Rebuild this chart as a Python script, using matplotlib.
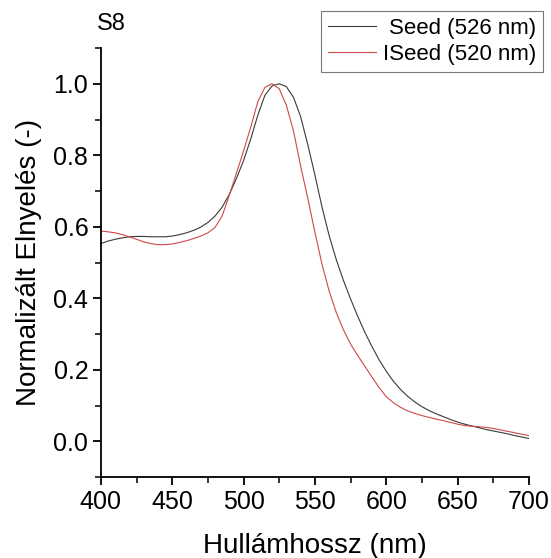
import matplotlib
matplotlib.use("Agg")
import matplotlib.pyplot as plt
from matplotlib.ticker import MultipleLocator

plt.rcParams["font.family"] = ["Liberation Sans", "DejaVu Sans"]

# wavelength grid (nm), 5 nm steps
wavelength = list(range(400, 701, 5))

# Seed spectrum (normalized absorbance)
seed_abs = [0.553, 0.560, 0.565, 0.569, 0.572, 0.573, 0.573, 0.572, 0.572,
            0.572, 0.574, 0.578, 0.583, 0.590, 0.599, 0.612, 0.630, 0.655,
            0.690, 0.735, 0.785, 0.845, 0.912, 0.968, 0.994, 1.000, 0.992,
            0.962, 0.908, 0.830, 0.745, 0.655, 0.575, 0.508, 0.450, 0.398,
            0.350, 0.305, 0.265, 0.228, 0.196, 0.168, 0.145, 0.126, 0.110,
            0.097, 0.086, 0.077, 0.069, 0.061, 0.054, 0.048, 0.043, 0.038,
            0.033, 0.029, 0.025, 0.021, 0.016, 0.012, 0.008]

# ISeed spectrum (normalized absorbance)
iseed_abs = [0.588, 0.586, 0.583, 0.578, 0.572, 0.565, 0.558, 0.553, 0.550,
             0.550, 0.552, 0.556, 0.561, 0.567, 0.574, 0.583, 0.598, 0.630,
             0.688, 0.750, 0.812, 0.878, 0.950, 0.990, 1.000, 0.986, 0.940,
             0.868, 0.770, 0.680, 0.585, 0.495, 0.420, 0.360, 0.312, 0.272,
             0.240, 0.210, 0.180, 0.150, 0.125, 0.108, 0.095, 0.085, 0.078,
             0.072, 0.067, 0.062, 0.058, 0.053, 0.048, 0.044, 0.042, 0.041,
             0.039, 0.036, 0.032, 0.028, 0.024, 0.020, 0.016]

labels = ["Seed (526 nm)", "ISeed (520 nm)"]

fig = plt.figure(figsize=(5.51, 5.58), dpi=100)
ax = fig.add_axes([0.183, 0.145, 0.777, 0.769])

ax.plot(wavelength, seed_abs, color="#3a3a3a", lw=0.8, label=labels[0])
ax.plot(wavelength, iseed_abs, color="#d04848", lw=0.8, label=labels[1])

ax.set_xlim(400, 700)
ax.set_ylim(-0.1, 1.1)
ax.xaxis.set_major_locator(MultipleLocator(50))
ax.xaxis.set_minor_locator(MultipleLocator(25))
ax.yaxis.set_major_locator(MultipleLocator(0.2))
ax.yaxis.set_minor_locator(MultipleLocator(0.1))
ax.set_yticks([0.0, 0.2, 0.4, 0.6, 0.8, 1.0])
ax.set_yticklabels(["0.0", "0.2", "0.4", "0.6", "0.8", "1.0"])

for s in ["top", "right"]:
    ax.spines[s].set_visible(False)
for s in ["left", "bottom"]:
    ax.spines[s].set_linewidth(1.3)
ax.tick_params(which="major", direction="out", length=6, width=1.3,
               labelsize=18, pad=3)
ax.tick_params(which="minor", direction="out", length=4, width=1.1)

ax.set_xlabel("Hullámhossz (nm)", fontsize=20, labelpad=14)
ax.set_ylabel("Normalizált Elnyelés (-)", fontsize=20, labelpad=8)

fig.text(97 / 551, 1 - 24 / 558, "S8", fontsize=17, va="center", ha="left")

leg = fig.legend(loc="upper right", bbox_to_anchor=(543 / 551, 1 - 11 / 558),
                 borderaxespad=0, fancybox=False, fontsize=16,
                 handlelength=2.2, handletextpad=0.3, borderpad=0.3,
                 labelspacing=0.25)
leg.get_frame().set_edgecolor("#555555")
leg.get_frame().set_linewidth(0.8)

# right-align legend text like the original
fig.canvas.draw()
rend = fig.canvas.get_renderer()
widths = [t.get_window_extent(rend).width for t in leg.get_texts()]
rows = leg._legend_handle_box.get_children()[0].get_children()
for row, w in zip(rows, widths):
    row.sep += (max(widths) - w) * 72 / fig.dpi

plt.savefig("out.png", dpi=100)
